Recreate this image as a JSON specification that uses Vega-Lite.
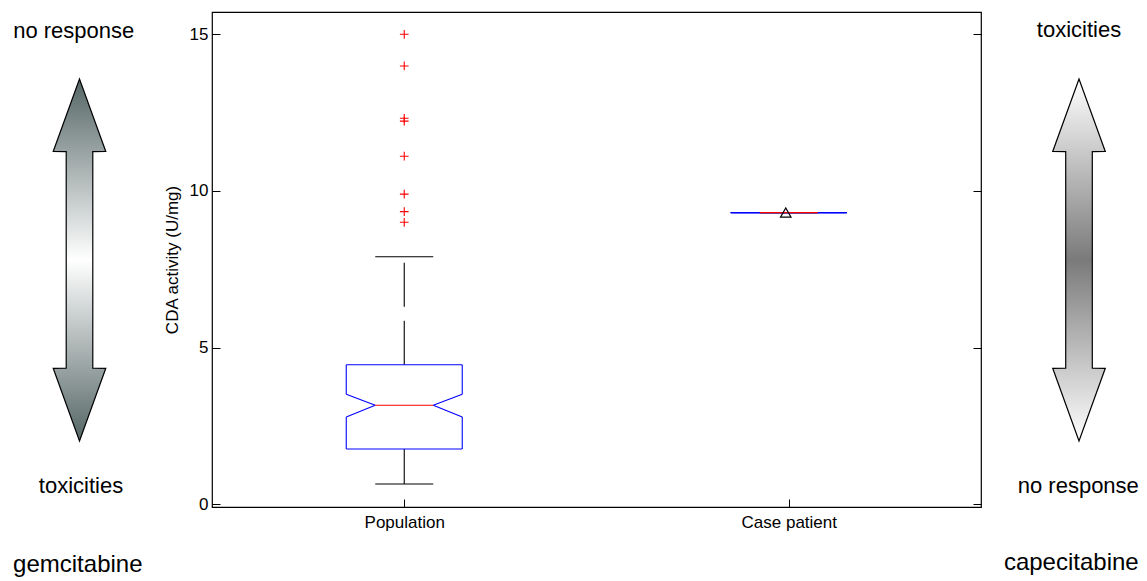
{
  "$schema": "https://vega.github.io/schema/vega-lite/v6.json",
  "padding": {"left": 0, "top": 11, "right": 0, "bottom": 0},
  "spacing": 0,
  "bounds": "flush",
  "config": {"font": "Liberation Sans", "view": {"stroke": null}},
  "datasets": {
    "box": [
      {"group": "Population", "wlo": 0.648, "q1": 1.765, "nlo": 2.786, "med": 3.16, "nhi": 3.51, "q3": 4.455, "whi": 7.9},
      {"group": "Case patient", "wlo": 9.31, "q1": 9.31, "nlo": 9.31, "med": 9.31, "nhi": 9.31, "q3": 9.31, "whi": 9.31}
    ],
    "outliers": [
      {"group": "Population", "value": 15.0},
      {"group": "Population", "value": 13.99},
      {"group": "Population", "value": 12.32},
      {"group": "Population", "value": 12.23},
      {"group": "Population", "value": 11.11},
      {"group": "Population", "value": 9.9},
      {"group": "Population", "value": 9.34},
      {"group": "Population", "value": 9.0}
    ],
    "patient": [{"group": "Case patient", "value": 9.31}],
    "leftArrow": [
      {"v": 0.1354, "lo": 0.375, "hi": 0.375},
      {"v": 0.2818, "lo": 0.251, "hi": 0.499},
      {"v": 0.2819, "lo": 0.3123, "hi": 0.4377},
      {"v": 0.7197, "lo": 0.3123, "hi": 0.4377},
      {"v": 0.7198, "lo": 0.251, "hi": 0.499},
      {"v": 0.8667, "lo": 0.375, "hi": 0.375}
    ],
    "rightArrow": [
      {"v": 0.1354, "lo": 0.5904, "hi": 0.5904},
      {"v": 0.2818, "lo": 0.432, "hi": 0.7488},
      {"v": 0.2819, "lo": 0.5103, "hi": 0.6705},
      {"v": 0.7197, "lo": 0.5103, "hi": 0.6705},
      {"v": 0.7198, "lo": 0.432, "hi": 0.7488},
      {"v": 0.8667, "lo": 0.5904, "hi": 0.5904}
    ],
    "leftLabels": [
      {"u": 0.3476, "v": 0.0519, "label": "no response"},
      {"u": 0.382, "v": 0.9723, "label": "toxicities"}
    ],
    "leftDrug": [{"u": 0.367, "v": 1.1307, "label": "gemcitabine"}],
    "rightLabels": [
      {"u": 0.5904, "v": 0.0505, "label": "toxicities"},
      {"u": 0.5861, "v": 0.9723, "label": "no response"}
    ],
    "rightDrug": [{"u": 0.544, "v": 1.1279, "label": "capecitabine"}]
  },
  "hconcat": [
    {
      "width": 212,
      "height": 495,
      "layer": [
        {
          "data": {"name": "leftArrow"},
          "mark": {
            "type": "area",
            "orient": "horizontal",
            "interpolate": "linear",
            "fill": {"gradient": "linear", "x1": 0, "y1": 0, "x2": 0, "y2": 1,
              "stops": [{"offset": 0, "color": "#556565"}, {"offset": 0.5, "color": "#ffffff"}, {"offset": 1, "color": "#556565"}]},
            "fillOpacity": 1,
            "stroke": "black",
            "strokeWidth": 1.2
          },
          "encoding": {
            "y": {"field": "v", "type": "quantitative", "scale": {"domain": [0, 1], "reverse": true, "nice": false, "zero": false}, "axis": null},
            "x": {"field": "lo", "type": "quantitative", "scale": {"domain": [0, 1], "nice": false, "zero": false}, "axis": null},
            "x2": {"field": "hi"}
          }
        },
        {
          "data": {"name": "leftLabels"},
          "mark": {"type": "text", "fontSize": 22, "align": "center", "baseline": "alphabetic", "color": "black"},
          "encoding": {
            "y": {"field": "v", "type": "quantitative", "axis": null},
            "x": {"field": "u", "type": "quantitative", "axis": null},
            "text": {"field": "label"}
          }
        },
        {
          "data": {"name": "leftDrug"},
          "mark": {"type": "text", "fontSize": 24, "align": "center", "baseline": "alphabetic", "color": "black"},
          "encoding": {
            "y": {"field": "v", "type": "quantitative", "axis": null},
            "x": {"field": "u", "type": "quantitative", "axis": null},
            "text": {"field": "label"}
          }
        }
      ]
    },
    {
      "width": 769,
      "height": 495,
      "view": {"stroke": "black", "strokeWidth": 1.2},
      "resolve": {"axis": {"x": "independent", "y": "independent"}},
      "layer": [
        {
          "data": {"name": "box"},
          "mark": {"type": "rule", "color": "black", "strokeWidth": 1.1, "strokeDash": [44, 14]},
          "encoding": {
            "x": {"field": "group", "type": "nominal", "scale": {"type": "point", "domain": ["Population", "Case patient"], "padding": 0.5},
              "axis": {"orient": "bottom", "title": null, "domain": false, "grid": false, "tickSize": -8, "tickColor": "black", "tickWidth": 1, "labelFontSize": 17, "labelColor": "black", "labelPadding": 15, "labelAngle": 0}},
            "y": {"field": "q3", "type": "quantitative", "scale": {"domain": [-0.086, 15.712], "nice": false, "zero": false},
              "axis": {"orient": "left", "title": "CDA activity (U/mg)", "values": [0, 5, 10, 15], "domain": false, "grid": false, "tickSize": -8, "tickColor": "black", "tickWidth": 1, "labelFontSize": 17, "labelColor": "black", "labelPadding": 12, "titleFontSize": 17, "titleFontWeight": "normal", "titleColor": "black", "titlePadding": 8}},
            "y2": {"field": "whi"}
          }
        },
        {
          "data": {"name": "box"},
          "mark": {"type": "rule", "color": "black", "strokeWidth": 1.1, "strokeDash": [44, 14]},
          "encoding": {
            "x": {"field": "group", "type": "nominal", "axis": null},
            "y": {"field": "q1", "type": "quantitative", "axis": {"orient": "right", "title": null, "values": [0, 5, 10, 15], "labels": false, "domain": false, "grid": false, "tickSize": -8, "tickColor": "black", "tickWidth": 1}},
            "y2": {"field": "wlo"}
          }
        },
        {
          "data": {"name": "box"},
          "mark": {"type": "rule", "color": "black", "strokeWidth": 1.1, "xOffset": -29, "x2Offset": 29},
          "encoding": {
            "x": {"field": "group", "type": "nominal", "axis": null},
            "x2": {"field": "group"},
            "y": {"field": "whi", "type": "quantitative", "axis": null}
          }
        },
        {
          "data": {"name": "box"},
          "mark": {"type": "rule", "color": "black", "strokeWidth": 1.1, "xOffset": -29, "x2Offset": 29},
          "encoding": {
            "x": {"field": "group", "type": "nominal", "axis": null},
            "x2": {"field": "group"},
            "y": {"field": "wlo", "type": "quantitative", "axis": null}
          }
        },
        {
          "data": {"name": "box"},
          "mark": {"type": "rule", "color": "blue", "strokeWidth": 1.1, "xOffset": -58, "x2Offset": 58},
          "encoding": {
            "x": {"field": "group", "type": "nominal", "axis": null},
            "x2": {"field": "group"},
            "y": {"field": "q1", "type": "quantitative", "axis": null}
          }
        },
        {
          "data": {"name": "box"},
          "mark": {"type": "rule", "color": "blue", "strokeWidth": 1.1, "xOffset": -58, "x2Offset": 58},
          "encoding": {
            "x": {"field": "group", "type": "nominal", "axis": null},
            "x2": {"field": "group"},
            "y": {"field": "q3", "type": "quantitative", "axis": null}
          }
        },
        {
          "data": {"name": "box"},
          "mark": {"type": "rule", "color": "blue", "strokeWidth": 1.1, "xOffset": -58},
          "encoding": {
            "x": {"field": "group", "type": "nominal", "axis": null},
            "y": {"field": "q1", "type": "quantitative", "axis": null},
            "y2": {"field": "nlo"}
          }
        },
        {
          "data": {"name": "box"},
          "mark": {"type": "rule", "color": "blue", "strokeWidth": 1.1, "xOffset": 58},
          "encoding": {
            "x": {"field": "group", "type": "nominal", "axis": null},
            "y": {"field": "q1", "type": "quantitative", "axis": null},
            "y2": {"field": "nlo"}
          }
        },
        {
          "data": {"name": "box"},
          "mark": {"type": "rule", "color": "blue", "strokeWidth": 1.1, "xOffset": -58},
          "encoding": {
            "x": {"field": "group", "type": "nominal", "axis": null},
            "y": {"field": "nhi", "type": "quantitative", "axis": null},
            "y2": {"field": "q3"}
          }
        },
        {
          "data": {"name": "box"},
          "mark": {"type": "rule", "color": "blue", "strokeWidth": 1.1, "xOffset": 58},
          "encoding": {
            "x": {"field": "group", "type": "nominal", "axis": null},
            "y": {"field": "nhi", "type": "quantitative", "axis": null},
            "y2": {"field": "q3"}
          }
        },
        {
          "data": {"name": "box"},
          "mark": {"type": "rule", "color": "blue", "strokeWidth": 1.1, "xOffset": -58, "x2Offset": -29},
          "encoding": {
            "x": {"field": "group", "type": "nominal", "axis": null},
            "x2": {"field": "group"},
            "y": {"field": "nlo", "type": "quantitative", "axis": null},
            "y2": {"field": "med"}
          }
        },
        {
          "data": {"name": "box"},
          "mark": {"type": "rule", "color": "blue", "strokeWidth": 1.1, "xOffset": 58, "x2Offset": 29},
          "encoding": {
            "x": {"field": "group", "type": "nominal", "axis": null},
            "x2": {"field": "group"},
            "y": {"field": "nlo", "type": "quantitative", "axis": null},
            "y2": {"field": "med"}
          }
        },
        {
          "data": {"name": "box"},
          "mark": {"type": "rule", "color": "blue", "strokeWidth": 1.1, "xOffset": -29, "x2Offset": -58},
          "encoding": {
            "x": {"field": "group", "type": "nominal", "axis": null},
            "x2": {"field": "group"},
            "y": {"field": "med", "type": "quantitative", "axis": null},
            "y2": {"field": "nhi"}
          }
        },
        {
          "data": {"name": "box"},
          "mark": {"type": "rule", "color": "blue", "strokeWidth": 1.1, "xOffset": 29, "x2Offset": 58},
          "encoding": {
            "x": {"field": "group", "type": "nominal", "axis": null},
            "x2": {"field": "group"},
            "y": {"field": "med", "type": "quantitative", "axis": null},
            "y2": {"field": "nhi"}
          }
        },
        {
          "data": {"name": "box"},
          "mark": {"type": "rule", "color": "red", "strokeWidth": 1.1, "xOffset": -29, "x2Offset": 29},
          "encoding": {
            "x": {"field": "group", "type": "nominal", "axis": null},
            "x2": {"field": "group"},
            "y": {"field": "med", "type": "quantitative", "axis": null}
          }
        },
        {
          "data": {"name": "outliers"},
          "mark": {"type": "point", "shape": "M-1,0L1,0M0,-1L0,1", "size": 76, "filled": false, "color": "red", "strokeWidth": 1.1, "opacity": 1},
          "encoding": {
            "x": {"field": "group", "type": "nominal", "axis": null},
            "y": {"field": "value", "type": "quantitative", "axis": null}
          }
        },
        {
          "data": {"name": "patient"},
          "mark": {"type": "point", "shape": "triangle-up", "size": 110, "filled": false, "color": "black", "strokeWidth": 1.2, "opacity": 1, "xOffset": -3},
          "encoding": {
            "x": {"field": "group", "type": "nominal", "axis": null},
            "y": {"field": "value", "type": "quantitative", "axis": null}
          }
        }
      ]
    },
    {
      "width": 166,
      "height": 495,
      "layer": [
        {
          "data": {"name": "rightArrow"},
          "mark": {
            "type": "area",
            "orient": "horizontal",
            "interpolate": "linear",
            "fill": {"gradient": "linear", "x1": 0, "y1": 0, "x2": 0, "y2": 1,
              "stops": [{"offset": 0, "color": "#ffffff"}, {"offset": 0.5, "color": "#7a7a7a"}, {"offset": 1, "color": "#ffffff"}]},
            "fillOpacity": 1,
            "stroke": "black",
            "strokeWidth": 1.2
          },
          "encoding": {
            "y": {"field": "v", "type": "quantitative", "scale": {"domain": [0, 1], "reverse": true, "nice": false, "zero": false}, "axis": null},
            "x": {"field": "lo", "type": "quantitative", "scale": {"domain": [0, 1], "nice": false, "zero": false}, "axis": null},
            "x2": {"field": "hi"}
          }
        },
        {
          "data": {"name": "rightLabels"},
          "mark": {"type": "text", "fontSize": 22, "align": "center", "baseline": "alphabetic", "color": "black"},
          "encoding": {
            "y": {"field": "v", "type": "quantitative", "axis": null},
            "x": {"field": "u", "type": "quantitative", "axis": null},
            "text": {"field": "label"}
          }
        },
        {
          "data": {"name": "rightDrug"},
          "mark": {"type": "text", "fontSize": 24, "align": "center", "baseline": "alphabetic", "color": "black"},
          "encoding": {
            "y": {"field": "v", "type": "quantitative", "axis": null},
            "x": {"field": "u", "type": "quantitative", "axis": null},
            "text": {"field": "label"}
          }
        }
      ]
    }
  ],
  "resolve": {"scale": {"x": "independent", "y": "independent"}}
}
